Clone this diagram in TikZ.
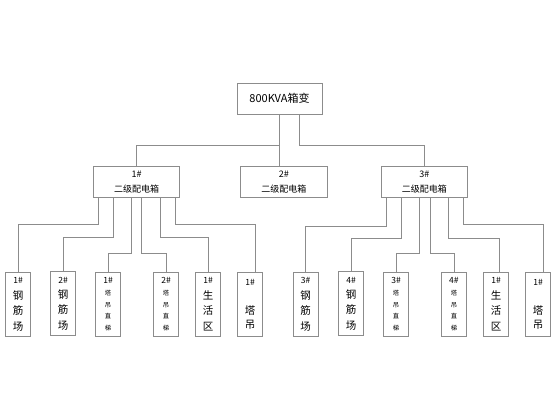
\documentclass[tikz,border=0pt]{standalone}
\usepackage{fontspec}
\setmainfont{Noto Sans CJK SC}
\begin{document}
\begin{tikzpicture}[x=1pt,y=-1pt,
  box/.style={draw=black!45,line width=0.8pt,inner sep=0pt,anchor=center},
  topbox/.style={box,minimum width=85pt,minimum height=31pt,font=\fontsize{11}{13}\selectfont},
  midbox/.style={box,minimum width=86.5pt,minimum height=30.5pt,align=center,font=\fontsize{9}{15}\selectfont},
  leafbig/.style={box,minimum width=25pt,minimum height=63.5pt,align=center,font=\fontsize{10.5}{15.4}\selectfont},
  leafsmall/.style={box,minimum width=25pt,minimum height=63.5pt,align=center,font=\fontsize{6.3}{11.7}\selectfont},
  leafcrane/.style={box,minimum width=25pt,minimum height=63.5pt,align=center,font=\fontsize{10.5}{14.5}\selectfont},
  wire/.style={draw=black!45,line width=0.8pt}]
\useasboundingbox (0,0) rectangle (560,420);
% top
\node[topbox] (T) at (279.5,98.5) {800KVA箱变};
% level 2
\node[midbox] (P1) at (136.5,181.75) {1\#\\二级配电箱};
\node[midbox] (P2) at (283.8,181.75) {2\#\\二级配电箱};
\node[midbox] (P3) at (424.3,182) {3\#\\二级配电箱};
% level 3 left
\node[leafbig] (A1) at (18,304.25) {{\fontsize{8.5}{15.4}\selectfont 1\#}\\钢\\筋\\场};
\node[leafbig] (A2) at (63,303.5) {{\fontsize{8.5}{15.4}\selectfont 2\#}\\钢\\筋\\场};
\node[leafsmall] (A3) at (108,304.25) {{\fontsize{8.5}{11.7}\selectfont 1\#}\\塔\\吊\\直\\梯};
\node[leafsmall] (A4) at (166,304.25) {{\fontsize{8.5}{11.7}\selectfont 2\#}\\塔\\吊\\直\\梯};
\node[leafbig] (A5) at (208,304.25) {{\fontsize{8.5}{15.4}\selectfont 1\#}\\生\\活\\区};
\node[leafcrane] (A6) at (250.2,304.25) {{\fontsize{8.5}{14.5}\selectfont 1\#}\\ \\塔\\吊};
% level 3 right
\node[leafbig] (B1) at (305.5,304.25) {{\fontsize{8.5}{15.4}\selectfont 3\#}\\钢\\筋\\场};
\node[leafbig] (B2) at (351,303.5) {{\fontsize{8.5}{15.4}\selectfont 4\#}\\钢\\筋\\场};
\node[leafsmall] (B3) at (396,304.25) {{\fontsize{8.5}{11.7}\selectfont 3\#}\\塔\\吊\\直\\梯};
\node[leafsmall] (B4) at (453.9,304.25) {{\fontsize{8.5}{11.7}\selectfont 4\#}\\塔\\吊\\直\\梯};
\node[leafbig] (B5) at (496.2,304.25) {{\fontsize{8.5}{15.4}\selectfont 1\#}\\生\\活\\区};
\node[leafcrane] (B6) at (538.2,304.25) {{\fontsize{8.5}{14.5}\selectfont 1\#}\\ \\塔\\吊};
% top connectors
\draw[wire] (T.south) -- (T.south |- P2.north);
\draw[wire] (T.south) ++(0,31) -| (P1.north);
\draw[wire] ([xshift=19.5]T.south) -- ++(0,31) -| (P3.north);
% left connectors
\draw[wire] ([xshift=-38.2]P1.south) -- ++(0,27.3) -| (A1.north);
\draw[wire] ([xshift=-23.2]P1.south) -- ++(0,40.3) -| (A2.north);
\draw[wire] ([xshift=-4.8]P1.south) -- ++(0,55.7) -| (A3.north);
\draw[wire] ([xshift=5.2]P1.south) -- ++(0,55.7) -| (A4.north);
\draw[wire] ([xshift=23.5]P1.south) -- ++(0,40.3) -| (A5.north);
\draw[wire] ([xshift=38.5]P1.south) -- ++(0,27.3) -| ([xshift=5.5]A6.north);
% right connectors
\draw[wire] ([xshift=-38.3]P3.south) -- ++(0,28.7) -| (B1.north);
\draw[wire] ([xshift=-22.6]P3.south) -- ++(0,40.3) -| (B2.north);
\draw[wire] ([xshift=-5]P3.south) -- ++(0,55.3) -| (B3.north);
\draw[wire] ([xshift=5.7]P3.south) -- ++(0,55.3) -| (B4.north);
\draw[wire] ([xshift=24]P3.south) -- ++(0,40.3) -| ([xshift=2.8]B5.north);
\draw[wire] ([xshift=39]P3.south) -- ++(0,26.3) -| ([xshift=5.1]B6.north);
\end{tikzpicture}
\end{document}
